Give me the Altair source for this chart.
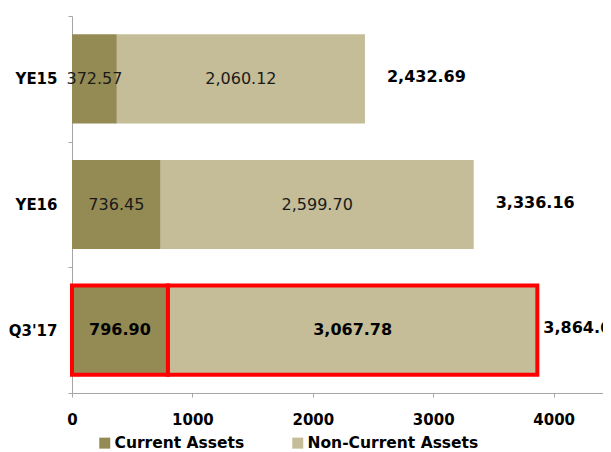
import altair as alt
import pandas as pd

# ---- data ----
periods = ["YE15", "YE16", "Q3'17"]
series = ["Current Assets", "Non-Current Assets"]
current_assets = [372.57, 736.45, 796.90]
non_current_assets = [2060.12, 2599.70, 3067.78]
totals = [2432.69, 3336.16, 3864.68]
x_ticks = [0, 1000, 2000, 3000, 4000]
colors = ["#948A54", "#C4BD97"]
highlight = "Q3'17"

rows = []
for i, p in enumerate(periods):
    for j, (s, vals) in enumerate(zip(series, [current_assets, non_current_assets])):
        rows.append({"Period": p, "Series": s, "Value": vals[i], "Order": j})
df = pd.DataFrame(rows)
tot = pd.DataFrame({"Period": periods, "Total": totals})

FONT = "DejaVu Sans"
AXIS_GRAY = "#A6A6A6"
xscale = alt.Scale(domain=[0, 4410], nice=False, zero=True)
yscale = alt.Scale(domain=periods, paddingInner=0, paddingOuter=0)

hl_expr = 'datum.Period == "%s"' % highlight
not_hl_expr = 'datum.Period != "%s"' % highlight

base = alt.Chart(df).transform_stack(
    stack="Value", groupby=["Period"], as_=["v0", "v1"],
    sort=[alt.SortField("Order", order="ascending")]
).transform_calculate(mid="(datum.v0 + datum.v1) / 2")

y_enc = alt.Y("Period:N", scale=yscale, sort=periods,
              axis=alt.Axis(title=None, tickBand="extent", tickSize=4,
                            domainColor=AXIS_GRAY, tickColor=AXIS_GRAY,
                            labelFont=FONT, labelFontWeight="bold",
                            labelFontSize=15, labelColor="black",
                            labelPadding=11, grid=False))

bars = base.mark_bar(height=alt.RelativeBandSize(band=0.71), stroke="#FF0000",
                     strokeJoin="miter").encode(
    x=alt.X("v0:Q", scale=xscale,
            axis=alt.Axis(values=x_ticks, format="d", title=None, grid=False,
                          domainColor=AXIS_GRAY, tickColor=AXIS_GRAY, tickSize=4,
                          labelFont=FONT, labelFontWeight="bold", labelFontSize=15,
                          labelColor="black", labelPadding=15, labelFlush=False)),
    x2="v1:Q",
    y=y_enc,
    color=alt.Color("Series:N", scale=alt.Scale(domain=series, range=colors),
                    legend=alt.Legend(orient="none", legendX=25, legendY=419,
                                      direction="horizontal", title=None,
                                      symbolType="square", symbolSize=121,
                                      symbolStrokeWidth=0, labelFont=FONT,
                                      labelFontWeight="bold", labelFontSize=15.5,
                                      labelColor="black", labelOffset=2,
                                      labelLimit=400,
                                      columnPadding=45, padding=0)),
    order=alt.Order("Order:Q"),
    strokeWidth=alt.condition(hl_expr, alt.value(4), alt.value(0)),
)

y_plain = alt.Y("Period:N", scale=yscale, sort=periods)

inner_reg = base.transform_filter(not_hl_expr).mark_text(
    font=FONT, fontSize=16, color="#1a1a1a").encode(
    x=alt.X("mid:Q", scale=xscale), y=y_plain,
    text=alt.Text("Value:Q", format=",.2f"))

inner_bold = base.transform_filter(hl_expr).mark_text(
    font=FONT, fontSize=16, fontWeight="bold", color="black").encode(
    x=alt.X("mid:Q", scale=xscale), y=y_plain,
    text=alt.Text("Value:Q", format=",.2f"))

tot_base = alt.Chart(tot)
tot_a = tot_base.transform_filter(not_hl_expr).mark_text(
    align="left", dx=22, dy=-2, font=FONT, fontSize=16, fontWeight="bold",
    color="black").encode(
    x=alt.X("Total:Q", scale=xscale), y=y_plain,
    text=alt.Text("Total:Q", format=",.2f"))
tot_b = tot_base.transform_filter(hl_expr).mark_text(
    align="left", dx=6, dy=-2, font=FONT, fontSize=16, fontWeight="bold",
    color="black").encode(
    x=alt.X("Total:Q", scale=xscale), y=y_plain,
    text=alt.Text("Total:Q", format=",.2f"))

chart = alt.layer(bars, inner_reg, inner_bold, tot_a, tot_b).properties(
    width=531, height=377,
    padding={"left": 64, "top": 8, "right": 0, "bottom": 60},
    autosize=alt.AutoSizeParams(type="none"),
    background="white",
).configure_view(stroke=None)

chart.save("out.html", embed_options={"renderer": "svg", "actions": False})
